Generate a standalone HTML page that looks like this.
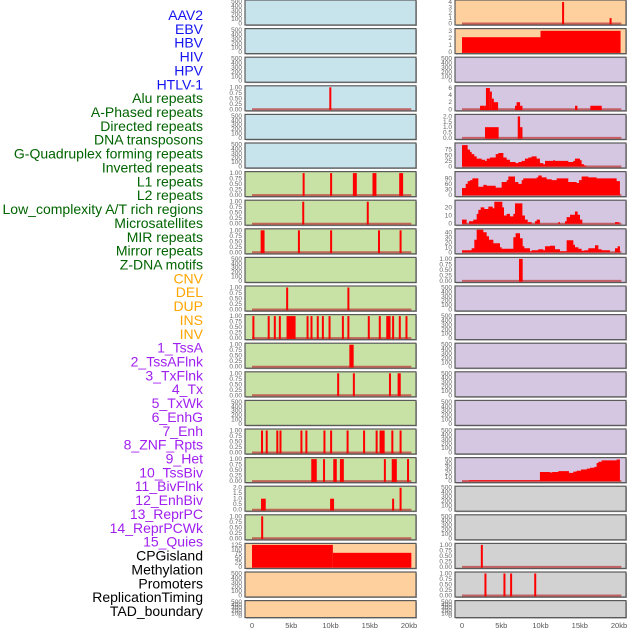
<!DOCTYPE html>
<html><head><meta charset="utf-8"><style>
html,body{margin:0;padding:0;background:#fff;}
svg{display:block;font-family:"Liberation Sans",sans-serif;}
</style></head><body>
<svg id="chart" width="630" height="630" viewBox="0 0 630 630" xmlns="http://www.w3.org/2000/svg"></svg>
<script>
// ---- data ----
const labels = ["AAV2","EBV","HBV","HIV","HPV","HTLV-1","Alu repeats","A-Phased repeats","Directed repeats","DNA transposons","G-Quadruplex forming repeats","Inverted repeats","L1 repeats","L2 repeats","Low_complexity A/T rich regions","Microsatellites","MIR repeats","Mirror repeats","Z-DNA motifs","CNV","DEL","DUP","INS","INV","1_TssA","2_TssAFlnk","3_TxFlnk","4_Tx","5_TxWk","6_EnhG","7_Enh","8_ZNF_Rpts","9_Het","10_TssBiv","11_BivFlnk","12_EnhBiv","13_ReprPC","14_ReprPCWk","15_Quies","CPGisland","Methylation","Promoters","ReplicationTiming","TAD_boundary"];
const labelGroups = [0,0,0,0,0,0,1,1,1,1,1,1,1,1,1,1,1,1,1,2,2,2,2,2,3,3,3,3,3,3,3,3,3,3,3,3,3,3,3,4,4,4,4,4];
const xTickLabels = ["0","5kb","10kb","15kb","20kb"];
const xTickValues = [0,5,10,15,20];

// bar tracks: starts / ends (kb) / values
const hivStarts=[9.85], hivEnds=[10.05], hivVals=[1];
const aluStarts=[6.45,9.95,12.85,15.35,18.75], aluEnds=[6.6,10.1,13.35,15.85,19.25], aluVals=[1,1,1,1,1];
const aphStarts=[6.4,14.62], aphEnds=[6.55,14.8], aphVals=[1,1];
const dirStarts=[1.1,5.85,9.95,16.05,18.8], dirEnds=[1.6,6.0,10.1,16.2,18.95], dirVals=[1,1,1,1,1];
const gquadStarts=[4.35,12.15], gquadEnds=[4.5,12.3], gquadVals=[1,1];
const invStarts=[0.05,2.0,2.78,3.42,4.4,6.95,7.45,8.25,8.9,9.75,11.45,12.15,14.75,16.15,17.1,17.85,18.7,19.55];
const invEnds=[0.2,2.12,2.95,3.56,5.55,7.1,7.58,8.38,9.05,9.88,11.58,12.3,14.88,16.3,17.65,17.98,18.85,19.68];
const invVals=[1,1,1,1,1,1,1,1,1,1,1,1,1,1,1,1,1,1];
const l1Starts=[12.4], l1Ends=[12.95], l1Vals=[1];
const l2Starts=[10.85,12.85,17.45,18.55], l2Ends=[11.0,13.0,17.6,18.95], l2Vals=[1,1,1,1];
const microStarts=[1.15,1.75,3.1,3.5,6.17,6.8,9.1,9.95,12.05,14.15,15.75,16.25,17.75,18.8];
const microEnds=[1.3,1.9,3.25,3.7,6.3,6.95,9.3,10.08,12.18,14.28,15.88,16.9,17.88,18.93];
const microVals=[1,1,1,1,1,1,1,1,1,1,1,1,1,1];
const mirStarts=[7.55,9.05,10.35,11.2,16.8,17.8,19.75], mirEnds=[8.25,9.2,10.8,11.7,16.95,18.45,19.9], mirVals=[1,1,1,1,1,1,1];
const mirrorStarts=[1.15,9.95,17.85,18.8], mirrorEnds=[1.75,10.45,17.97,18.92], mirrorVals=[1,1,1,2];
const zdnaStarts=[1.17], zdnaEnds=[1.3], zdnaVals=[1];
const cnvStarts=[0,10.3], cnvEnds=[10.3,20.3], cnvVals=[125,80];
const insStarts=[12.75,18.8], insEnds=[12.9,18.95], insVals=[4,1];
const invSvStarts=[0,10], invSvEnds=[10,20.2], invSvVals=[2.1,3];
const tssaflnkStarts=[2.3,2.9,3.05,3.55,3.8,3.95,6.75,6.95,7.4,14.4,16.35];
const tssaflnkEnds=[2.9,3.05,3.55,3.8,3.95,4.6,6.95,7.4,7.7,14.7,17.8];
const tssaflnkVals=[1,1,6,5,3,2,1,2,1,1,1];
const txflnkStarts=[2.93,7.1,7.4], txflnkEnds=[4.67,7.4,7.7], txflnkVals=[1,2,1];
const znfStarts=[7.26], znfEnds=[7.73], znfVals=[1];
const promStarts=[2.4], promEnds=[2.65], promVals=[1];
const reptStarts=[2.86,5.28,6.13,9.2], reptEnds=[3.0,5.42,6.27,9.4], reptVals=[1,1,1,1];

// step tracks: bin starts (kb), values, end
const txStarts=[0.0,0.72,1.02,1.23,1.57,1.87,2.5,2.93,3.14,3.57,4.29,4.63,5.27,5.69,6.11,6.83,7.18,7.6,8.02,8.45,8.87,9.51,9.93,10.36,10.57,11.63,11.85,13.54,14.18,14.39,15.03,15.24,15.54];
const txVals=[95,75,65,55,45,35,30,25,35,40,55,60,40,30,20,15,20,25,35,40,45,35,15,10,25,28,25,20,25,35,28,10,5];
const txEnd=15.8;
const txwkStarts=[0.0,0.47,0.72,1.02,1.32,2.08,2.72,3.14,4.29,5.05,5.69,5.9,6.75,7.18,7.6,7.81,9.51,9.72,10.15,10.78,11.42,12.06,13.54,14.6,14.9,15.24,16.09,17.15,18.43,19.7];
const txwkVals=[38,60,75,80,90,45,55,50,40,70,80,100,70,60,80,90,95,105,95,85,80,90,70,65,80,100,95,90,90,75];
const txwkEnd=20.12;
const enhgStarts=[0,0.59,0.89,1.44,1.87,2.08,2.38,2.84,3.36,3.91,4.12,5.14,5.35,5.69,6.11,6.54,6.75,7.69,8.02,8.37,8.87,9.3,9.51,9.93,12.27,12.48,13.12,13.33,13.76,14.39,14.73,15.03,15.33,19.49];
const enhgVals=[5,0,3,5,12,17,20,18,21,19,27,20,10,12,9,12,25,10,5,2,0,3,5,0,2,0,3,8,11,15,11,5,0,2];
const enhgEnd=20.04;
const enhStarts=[0,1.23,1.57,1.87,2.72,3.14,3.44,3.99,4.84,5.05,6.54,6.83,7.39,7.73,7.94,8.66,8.87,9.72,10.36,10.57,11.21,11.85,12.48,13.33,14.18,14.39,14.82,15.24,15.58,16.09,16.94,17.37,17.79,18.85,19.49,19.83];
const enhVals=[4,8,25,45,40,32,25,18,10,7,30,38,28,12,8,2,4,6,4,12,13,6,2,24,15,10,7,3,4,8,14,6,4,0,8,12];
const enhEnd=20.12;
const quiesStarts=[0,0.89,9.93,11.21,11.5,12.27,13.63,14.18,14.6,15.16,15.88,16.3,16.85,17.15,17.37,17.79,19.7];
const quiesVals=[0.5,2,21,20,21,23,19,22,24,27,29,31,33,42,45,48,50];
const quiesEnd=20.12;

// ---- layout ----
const NS="http://www.w3.org/2000/svg";
const svg=document.getElementById('chart');
function mk(tag,attrs,parent){const e=document.createElementNS(NS,tag);for(const k in attrs)e.setAttribute(k,attrs[k]);(parent||svg).appendChild(e);return e;}
const groupColors=["#1414f0","#006400","#ffa500","#a020f0","#000000"];
const BG={blue:"#c7e3eb",green:"#c8e1a4",orange:"#fed09e",lav:"#d5c6e2",gray:"#d2d2d2"};
const colX=[245,455], colW=171, kbPx=7.85, x0Off=7;
function rowTop(r){return r*28.6;}
function rowH(r){return r===21?17:25;}

const T1=[[0,"0.00"],[0.25,"0.25"],[0.5,"0.50"],[0.75,"0.75"],[1,"1.00"]];
const T2=[[0,"0.0"],[0.5,"0.5"],[1,"1.0"],[1.5,"1.5"],[2,"2.0"]];
const TE=[[0,"0"],[100,"100"],[200,"200"],[300,"300"],[400,"400"],[500,"500"]];
function ticks(arr){return arr.map(v=>[v,String(v)]);}

const panels=[
 // left column
 {c:0,r:0,bg:"blue",t:TE,m:500},{c:0,r:1,bg:"blue",t:TE,m:500},{c:0,r:2,bg:"blue",t:TE,m:500},
 {c:0,r:3,bg:"blue",t:T1,m:1,b:[hivStarts,hivEnds,hivVals]},
 {c:0,r:4,bg:"blue",t:TE,m:500},{c:0,r:5,bg:"blue",t:TE,m:500},
 {c:0,r:6,bg:"green",t:T1,m:1,b:[aluStarts,aluEnds,aluVals]},
 {c:0,r:7,bg:"green",t:T1,m:1,b:[aphStarts,aphEnds,aphVals]},
 {c:0,r:8,bg:"green",t:T1,m:1,b:[dirStarts,dirEnds,dirVals]},
 {c:0,r:9,bg:"green",t:TE,m:500},
 {c:0,r:10,bg:"green",t:T1,m:1,b:[gquadStarts,gquadEnds,gquadVals]},
 {c:0,r:11,bg:"green",t:T1,m:1,b:[invStarts,invEnds,invVals]},
 {c:0,r:12,bg:"green",t:T1,m:1,b:[l1Starts,l1Ends,l1Vals]},
 {c:0,r:13,bg:"green",t:T1,m:1,b:[l2Starts,l2Ends,l2Vals]},
 {c:0,r:14,bg:"green",t:TE,m:500},
 {c:0,r:15,bg:"green",t:T1,m:1,b:[microStarts,microEnds,microVals]},
 {c:0,r:16,bg:"green",t:T1,m:1,b:[mirStarts,mirEnds,mirVals]},
 {c:0,r:17,bg:"green",t:T2,m:2,b:[mirrorStarts,mirrorEnds,mirrorVals]},
 {c:0,r:18,bg:"green",t:T1,m:1,b:[zdnaStarts,zdnaEnds,zdnaVals]},
 {c:0,r:19,bg:"orange",t:ticks([0,25,50,75,100,125]),m:125,b:[cnvStarts,cnvEnds,cnvVals],nobase:true},
 {c:0,r:20,bg:"orange",t:TE,m:500},{c:0,r:21,bg:"orange",t:TE,m:500},
 // right column
 {c:1,r:0,bg:"orange",t:ticks([0,1,2,3,4]),m:4.1,b:[insStarts,insEnds,insVals]},
 {c:1,r:1,bg:"orange",t:ticks([0,1,2,3]),m:3.1,b:[invSvStarts,invSvEnds,invSvVals],nobase:true},
 {c:1,r:2,bg:"lav",t:TE,m:500},
 {c:1,r:3,bg:"lav",t:ticks([0,2,4,6]),m:6.2,b:[tssaflnkStarts,tssaflnkEnds,tssaflnkVals]},
 {c:1,r:4,bg:"lav",t:T2,m:2.05,b:[txflnkStarts,txflnkEnds,txflnkVals]},
 {c:1,r:5,bg:"lav",t:ticks([0,25,50,75]),m:98,s:[txStarts,txVals,txEnd]},
 {c:1,r:6,bg:"lav",t:ticks([0,30,60,90]),m:118,s:[txwkStarts,txwkVals,txwkEnd]},
 {c:1,r:7,bg:"lav",t:ticks([0,10,20]),m:27,s:[enhgStarts,enhgVals,enhgEnd]},
 {c:1,r:8,bg:"lav",t:ticks([0,10,20,30,40]),m:44,s:[enhStarts,enhVals,enhEnd]},
 {c:1,r:9,bg:"lav",t:T1,m:1,b:[znfStarts,znfEnds,znfVals]},
 {c:1,r:10,bg:"lav",t:TE,m:500},{c:1,r:11,bg:"lav",t:TE,m:500},{c:1,r:12,bg:"lav",t:TE,m:500},
 {c:1,r:13,bg:"lav",t:TE,m:500},{c:1,r:14,bg:"lav",t:TE,m:500},{c:1,r:15,bg:"lav",t:TE,m:500},
 {c:1,r:16,bg:"lav",t:ticks([0,10,20,30,40,50]),m:51,s:[quiesStarts,quiesVals,quiesEnd]},
 {c:1,r:17,bg:"gray",t:TE,m:500},{c:1,r:18,bg:"gray",t:TE,m:500},
 {c:1,r:19,bg:"gray",t:T1,m:1,b:[promStarts,promEnds,promVals]},
 {c:1,r:20,bg:"gray",t:T1,m:1,b:[reptStarts,reptEnds,reptVals]},
 {c:1,r:21,bg:"gray",t:TE,m:500}
];

// labels
labels.forEach((txt,i)=>{
  const t=mk('text',{x:203,y:(20+13.86*i).toFixed(1),'text-anchor':'end','font-size':14,fill:groupColors[labelGroups[i]]});
  
  
  t.textContent=txt;
});

panels.forEach((p,idx)=>{
  const px=colX[p.c], top=rowTop(p.r), h=rowH(p.r);
  const xs=kb=>px+x0Off+kb*kbPx;
  const ys=v=>top+h-1.5-(v/p.m)*(h-3);
  const g=mk('g',{});
  
  
  mk('rect',{x:px+1,y:top+1,width:colW,height:h,fill:'#aaa'},g);
  const bgR=mk('rect',{x:px,y:top,width:colW,height:h,fill:BG[p.bg],stroke:'#5a5a5a','stroke-width':1.2},g);
  
  
  // y ticks
  p.t.forEach(([v,l])=>{
    const tt=mk('text',{x:px-3,y:(ys(v)+2).toFixed(1),'text-anchor':'end','font-size':6.5,fill:'#666'},g);
    
    
    tt.textContent=l;
  });
  const hasData=p.b||p.s;
  if(hasData && !p.nobase){
    const bl=mk('line',{x1:xs(0),x2:xs(20.3),y1:ys(0),y2:ys(0),stroke:'rgba(190,60,60,0.75)','stroke-width':2},g);
    
    
  }
  if(p.b){
    const [st,en,va]=p.b;
    st.forEach((s,i)=>{
      const x1=xs(s), x2=Math.max(xs(en[i]),x1+2);
      const r=mk('rect',{x:x1.toFixed(2),y:ys(va[i]).toFixed(2),width:(x2-x1).toFixed(2),height:(ys(0)-ys(va[i])+0.8).toFixed(2),fill:'#ff0000'},g);
      
      
    });
  }
  if(p.s){
    const [st,va,end]=p.s;
    let d='M'+xs(st[0]).toFixed(2)+','+ys(0).toFixed(2);
    st.forEach((s,i)=>{
      const e=i<st.length-1?st[i+1]:end;
      d+=' L'+xs(s).toFixed(2)+','+ys(va[i]).toFixed(2)+' L'+xs(e).toFixed(2)+','+ys(va[i]).toFixed(2);
    });
    d+=' L'+xs(end).toFixed(2)+','+ys(0).toFixed(2)+'Z';
    const a=mk('path',{d:d,fill:'#ff0000'},g);
    
    
  }
});

// x axes
[0,1].forEach(c=>{
  xTickValues.forEach((v,i)=>{
    const t=mk('text',{x:(colX[c]+x0Off+v*kbPx).toFixed(1),y:628,'text-anchor':'middle','font-size':7.5,fill:'#555'});
    
    
    t.textContent=xTickLabels[i];
  });
});
</script>
</body></html>
